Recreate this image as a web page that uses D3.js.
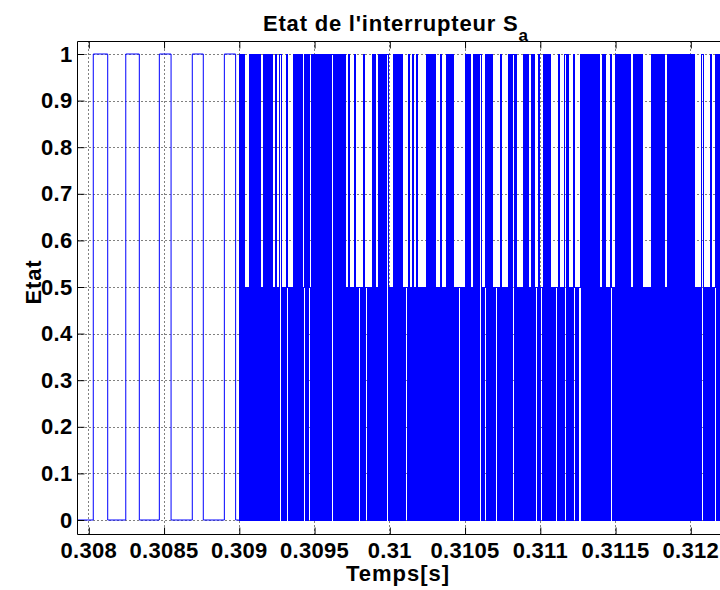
<!DOCTYPE html>
<html>
<head>
<meta charset="utf-8">
<script src="https://cdn.jsdelivr.net/npm/d3@7"></script>
<style>
  html, body { margin: 0; padding: 0; background: #fff; }
  svg { display: block; }
  text { font-family: "Liberation Sans", Arial, sans-serif; font-weight: bold; fill: #000; }
</style>
</head>
<body>
<svg id="chart" width="720" height="590"></svg>
<script>
// ---------------- data ----------------
const titleMain = "Etat de l'interrupteur S";
const titleSub = "a";
const xLabel = "Temps[s]";
const yLabel = "Etat";

const xTicks = [0.308, 0.3085, 0.309, 0.3095, 0.31, 0.3105, 0.311, 0.3115, 0.312];
const xTickLabels = ["0.308", "0.3085", "0.309", "0.3095", "0.31", "0.3105", "0.311", "0.3115", "0.312"];
const yTicks = [0, 0.1, 0.2, 0.3, 0.4, 0.5, 0.6, 0.7, 0.8, 0.9, 1];
const yTickLabels = ["0", "0.1", "0.2", "0.3", "0.4", "0.5", "0.6", "0.7", "0.8", "0.9", "1"];

// slow switching period (rising / falling edge times, s)
const pulseRise = [0.308033, 0.308249, 0.308472, 0.308691, 0.308904];
const pulseFall = [0.308129, 0.308339, 0.308550, 0.308764, 0.308979];

// fast switching period: state sampled on a regular grid (0, 5 = 0.5, 1)
const denseStart = 0.309;
const denseStep = 0.0000066445;
const denseSamples = [
  "0101010505", "0101010101", "0105010101", "0101050105", "0110505015",
  "0505010101", "0101051010", "1501010101", "0101010101", "0101101010",
  "1010101050", "1050501050", "5505010550", "5050101050", "1010101011",
  "0505010101", "0101050550", "1050105010", "5050505010", "1010101050",
  "5010505010", "1010105050", "5505050101", "0105010101", "0110505101",
  "0101050550", "5010505050", "1010110105", "0505010101", "0501010550",
  "1055010101", "0105050550", "1050501101", "0505015050", "5510101010",
  "1010101010", "1050101050", "5015050101", "0101010101", "0105010101",
  "0101050505", "0501010101", "0101010501", "0101010101", "0101010101",
  "0101010505", "0501105050", "5010505101", "0105050101"
].join("");

// ---------------- layout ----------------
const svg = d3.select("#chart");
const W = 720, H = 590;
const plotLeft = 77.5, plotTop = 41.5, plotBottom = 534.5, plotRight = 730;

const x = d3.scaleLinear().domain([0.308, 0.312]).range([88.3, 690.3]);
const y = d3.scaleLinear().domain([0, 1]).range([520, 54]);
const xMin = x.invert(plotLeft);
const xMax = x.invert(plotRight);

// clip
svg.append("defs").append("clipPath").attr("id", "clip")
  .append("rect").attr("x", plotLeft).attr("y", plotTop)
  .attr("width", plotRight - plotLeft).attr("height", plotBottom - plotTop);

// grid (dotted)
const grid = svg.append("g");
grid.selectAll("line.gx").data(xTicks).join("line")
  .attr("x1", d => Math.round(x(d)) + 0.5).attr("x2", d => Math.round(x(d)) + 0.5)
  .attr("y1", plotTop).attr("y2", plotBottom)
  .attr("stroke", "#000").attr("stroke-width", 1).attr("stroke-dasharray", "1,3");
grid.selectAll("line.gy").data(yTicks).join("line")
  .attr("y1", d => Math.round(y(d)) + 0.5).attr("y2", d => Math.round(y(d)) + 0.5)
  .attr("x1", plotLeft).attr("x2", plotRight)
  .attr("stroke", "#000").attr("stroke-width", 1).attr("stroke-dasharray", "1,3");

// signal points: slow part
const slowPts = [[xMin, 0]];
pulseRise.forEach((r, i) => { slowPts.push([r, 1]); slowPts.push([pulseFall[i], 0]); });
slowPts.push([denseStart, 0]);
// fast part
const densePts = [];
for (let i = 0; i < denseSamples.length; i++) {
  const c = denseSamples[i];
  densePts.push([denseStart + i * denseStep, c === "5" ? 0.5 : +c]);
}
densePts.push([xMax, densePts[densePts.length - 1][1]]);

const line = d3.line().x(d => x(d[0])).y(d => y(d[1])).curve(d3.curveStepAfter);
svg.append("path").attr("clip-path", "url(#clip)")
  .attr("d", line(slowPts)).attr("fill", "none")
  .attr("stroke", "#0000ff").attr("stroke-width", 1);
svg.append("path").attr("clip-path", "url(#clip)")
  .attr("d", line(densePts)).attr("fill", "none")
  .attr("stroke", "#0000ff").attr("stroke-width", 1)
  .attr("shape-rendering", "crispEdges");

// axes
const fontSize = 22;
const axB = svg.append("g").attr("transform", `translate(0,${plotBottom})`)
  .call(d3.axisBottom(x).tickValues(xTicks).tickFormat((d, i) => xTickLabels[i])
    .tickSizeInner(-7).tickSizeOuter(0).tickPadding(8));
const axT = svg.append("g").attr("transform", `translate(0,${plotTop})`)
  .call(d3.axisTop(x).tickValues(xTicks).tickFormat("").tickSizeInner(-7).tickSizeOuter(0));
const axL = svg.append("g").attr("transform", `translate(${plotLeft},0)`)
  .call(d3.axisLeft(y).tickValues(yTicks).tickFormat((d, i) => yTickLabels[i])
    .tickSizeInner(-7).tickSizeOuter(0).tickPadding(5));
[axB, axT, axL].forEach(a => {
  a.select(".domain").remove();
  a.selectAll("line").attr("stroke", "#000");
  a.selectAll("text").attr("font-size", fontSize).attr("letter-spacing", 0.3)
    .attr("font-family", "Liberation Sans, Arial, sans-serif").attr("font-weight", "bold").attr("fill", "#000");
});
axB.selectAll(".tick line").attr("transform", "translate(0.5,0)");
axT.selectAll(".tick line").attr("transform", "translate(0.5,0)");

// box lines (left, top, bottom; right edge is outside the picture)
svg.append("line").attr("x1", plotLeft).attr("x2", plotLeft).attr("y1", plotTop).attr("y2", plotBottom).attr("stroke", "#000");
svg.append("line").attr("x1", plotLeft).attr("x2", W).attr("y1", plotTop).attr("y2", plotTop).attr("stroke", "#000");
svg.append("line").attr("x1", plotLeft).attr("x2", W).attr("y1", plotBottom).attr("y2", plotBottom).attr("stroke", "#000");

// title
const t = svg.append("text").attr("x", 263).attr("y", 31).attr("font-size", 22).attr("letter-spacing", 0.8);
t.append("tspan").text(titleMain);
t.append("tspan").attr("dy", 10).attr("font-size", 17).text(titleSub);

// axis labels
svg.append("text").attr("x", 398).attr("y", 581).attr("text-anchor", "middle")
  .attr("font-size", 22).attr("letter-spacing", 1).text(xLabel);
svg.append("text").attr("transform", "translate(41,282) rotate(-90)")
  .attr("text-anchor", "middle").attr("font-size", 22).attr("letter-spacing", 0.8).text(yLabel);
</script>
</body>
</html>
